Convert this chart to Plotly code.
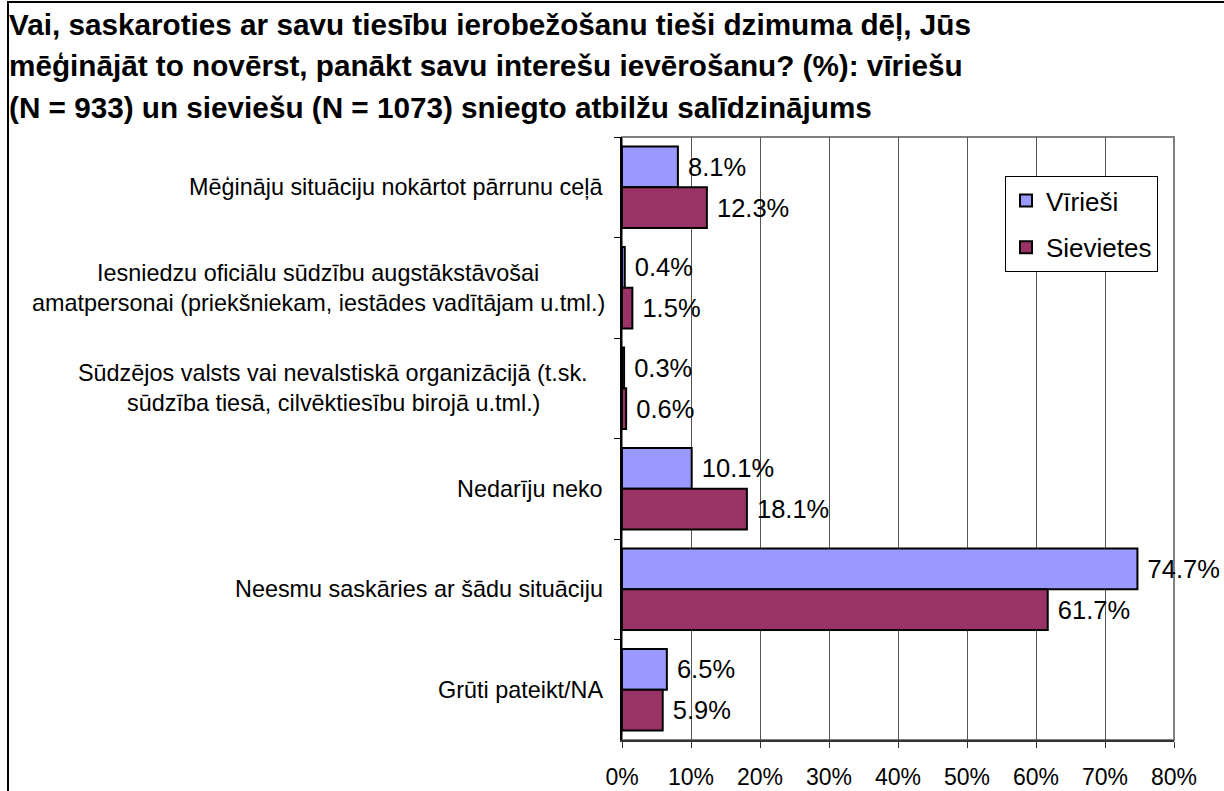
import plotly.graph_objects as go

categories = [
    "Mēģināju situāciju nokārtot pārrunu ceļā",
    "Iesniedzu oficiālu sūdzību augstākstāvošai\namatpersonai (priekšniekam, iestādes vadītājam u.tml.)",
    "Sūdzējos valsts vai nevalstiskā organizācijā (t.sk.\nsūdzība tiesā, cilvēktiesību birojā u.tml.)",
    "Nedarīju neko",
    "Neesmu saskāries ar šādu situāciju",
    "Grūti pateikt/NA",
]
men = [8.1, 0.4, 0.3, 10.1, 74.7, 6.5]
women = [12.3, 1.5, 0.6, 18.1, 61.7, 5.9]
series_names = ["Vīrieši", "Sievietes"]
title_lines = [
    "Vai, saskaroties ar savu tiesību ierobežošanu tieši dzimuma dēļ, Jūs",
    "mēģinājāt to novērst, panākt savu interešu ievērošanu? (%): vīriešu",
    "(N = 933) un sieviešu (N = 1073) sniegto atbilžu salīdzinājums",
]
x_ticks = [0, 10, 20, 30, 40, 50, 60, 70, 80]

W, H = 1224, 791
L, R, T, B = 622, 1174, 137, 740
FONT = "Arial, Liberation Sans, sans-serif"


def px_x(px):
    return (px - L) / (R - L)


def px_y(py):
    return (B - py) / (B - T)


keys = [c.replace("\n", " ") for c in categories]

fig = go.Figure()
for name, vals, color in [(series_names[0], men, "#9999FF"), (series_names[1], women, "#993366")]:
    fig.add_trace(go.Bar(
        y=keys, x=vals, name=name, orientation="h",
        marker=dict(color=color, line=dict(color="#000000", width=2)),
        text=[f" {v:.1f}%" for v in vals], textposition="outside",
        textfont=dict(family=FONT, size=25.5, color="#000000"),
        cliponaxis=False, constraintext="none", legendgroup=name,
    ))

annotations = []
# title lines
for i, line in enumerate(title_lines):
    annotations.append(dict(
        text="<b>" + line + "</b>", xref="paper", yref="paper",
        x=px_x(7), y=px_y([25, 66, 107][i]), xanchor="left", yanchor="middle",
        showarrow=False, font=dict(family=FONT, size=29.7, color="#000000"),
    ))

# category labels (centered lines, right edge near axis)
centers = [None, 318, 333, None, None, None]
for k, (cat, key) in enumerate(zip(categories, keys)):
    lines = cat.split("\n")
    n = len(lines)
    for j, line in enumerate(lines):
        shift = ((n - 1) / 2 - j) * 30
        if n == 1:
            ann = dict(x=px_x(605), xanchor="right")
        else:
            ann = dict(x=px_x(centers[k]), xanchor="center")
        ann.update(text=line, xref="paper", yref="y", y=key, yshift=shift,
                   yanchor="middle", showarrow=False,
                   font=dict(family=FONT, size=23.4, color="#000000"))
        annotations.append(ann)

shapes = [
    # plot frame (gray)
    dict(type="rect", xref="paper", yref="paper", x0=0, x1=1, y0=0, y1=1,
         line=dict(color="#808080", width=2), layer="below"),
    # outer border (top and left edges visible)
    dict(type="rect", xref="paper", yref="paper", x0=px_x(8), x1=px_x(1240),
         y0=px_y(810), y1=px_y(2), line=dict(color="#000000", width=2)),
]

fig.update_layout(
    width=W, height=H,
    margin=dict(l=L, r=W - R, t=T, b=H - B, pad=0, autoexpand=False),
    paper_bgcolor="#ffffff", plot_bgcolor="#ffffff",
    barmode="group", bargap=0.19, bargroupgap=0,
    font=dict(family=FONT, size=23, color="#000000"),
    showlegend=True,
    legend=dict(
        x=px_x(1005), y=px_y(176), xanchor="left", yanchor="top",
        bgcolor="#ffffff", bordercolor="#000000", borderwidth=1,
        font=dict(family=FONT, size=26, color="#000000"),
        traceorder="grouped", tracegroupgap=10,
        itemwidth=30,
    ),
    xaxis=dict(
        range=[0, 80], tickvals=x_ticks, ticktext=[f"{v}%" for v in x_ticks],
        showgrid=True, gridcolor="#555555", gridwidth=1,
        showline=True, linecolor="#333333", linewidth=2,
        ticks="outside", ticklen=6, tickcolor="#333333",
        ticklabelstandoff=9, automargin=False,
        tickfont=dict(family=FONT, size=23, color="#000000"),
        zeroline=False, fixedrange=True,
    ),
    yaxis=dict(
        categoryorder="array", categoryarray=keys, autorange="reversed",
        showticklabels=False, ticks="outside", ticklen=6, tickcolor="#000000",
        tickson="boundaries", showline=True, linecolor="#000000", linewidth=2,
        showgrid=False, zeroline=False, fixedrange=True, automargin=False,
    ),
    annotations=annotations,
    shapes=shapes,
)

fig.write_html("out.html", config={"displayModeBar": False},
               post_script="document.body.style.margin='0px';")
